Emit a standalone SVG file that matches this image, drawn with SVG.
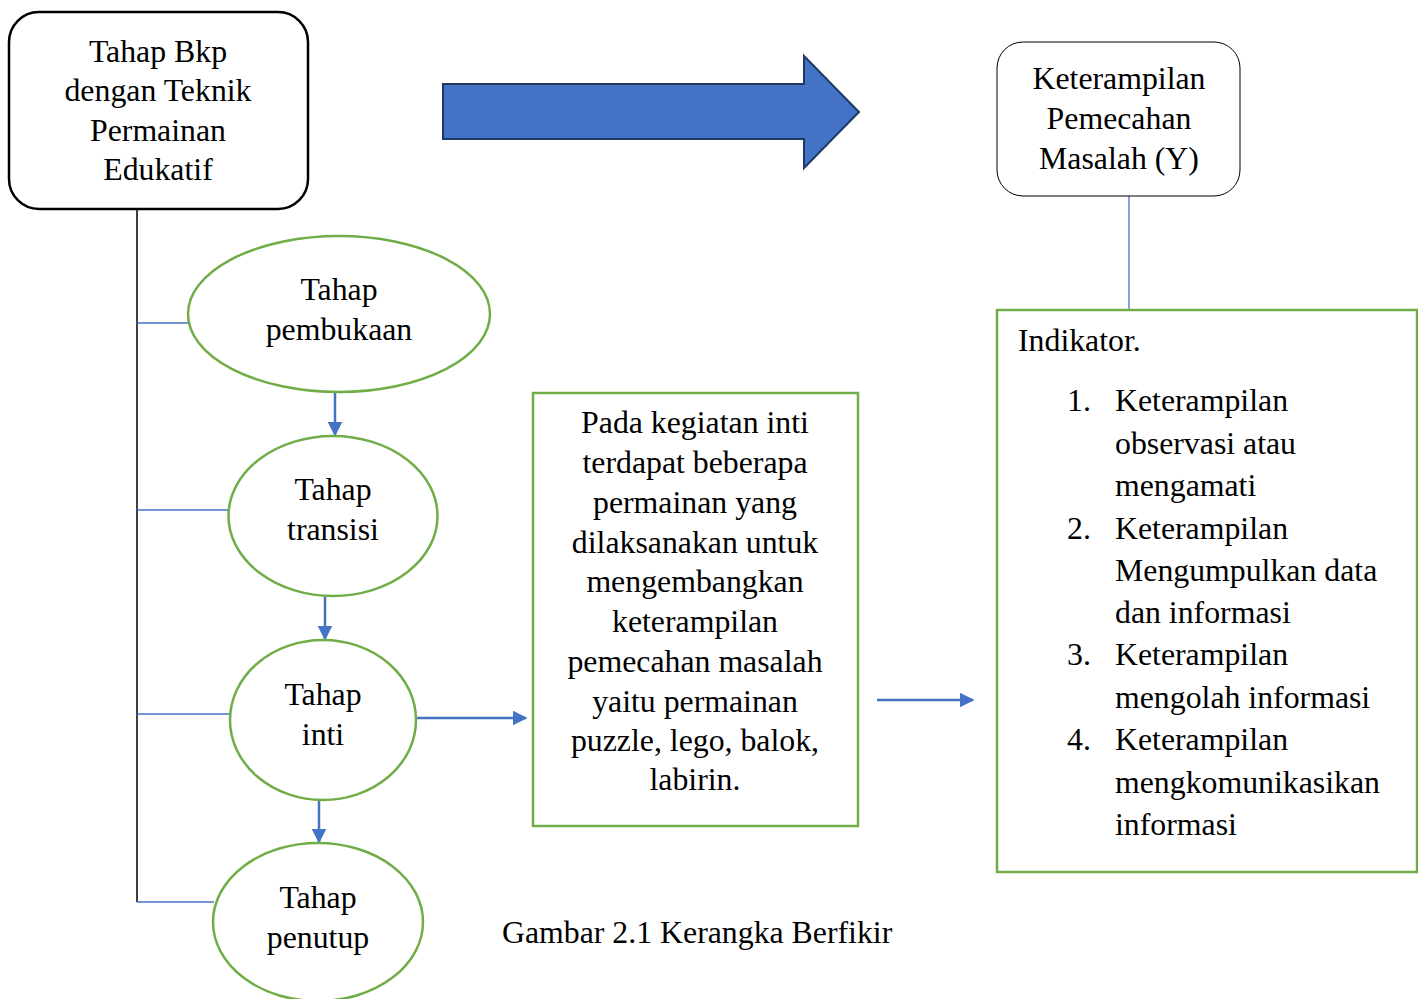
<svg xmlns="http://www.w3.org/2000/svg" width="1418" height="999" viewBox="0 0 1418 999">
<style>
text{font-family:"Liberation Serif","Times New Roman",serif;font-size:31.8px;fill:#000}
.c{text-anchor:middle}
.el{fill:#fff;stroke:#70AD47;stroke-width:2.5}
.gb{fill:#fff;stroke:#70AD47;stroke-width:2.5}
.bl{stroke:#4472C4;stroke-width:1.3;fill:none}
.ar{stroke:#4472C4;stroke-width:2.5;fill:none;marker-end:url(#ah)}
</style>
<defs>
<marker id="ah" viewBox="0 0 10 10" refX="9" refY="5" markerWidth="6" markerHeight="6" markerUnits="strokeWidth" orient="auto"><path d="M0,0 L10,5 L0,10 z" fill="#4472C4"/></marker>
</defs>
<rect width="1418" height="999" fill="#fff"/>
<g id="connectors">
<line x1="137" y1="209" x2="137" y2="902" stroke="#000" stroke-width="1.5"/>
<line class="bl" x1="137" y1="323" x2="189" y2="323"/>
<line class="bl" x1="137" y1="510" x2="229" y2="510"/>
<line class="bl" x1="137" y1="714" x2="231" y2="714"/>
<line class="bl" x1="137" y1="902" x2="214" y2="902"/>
<line class="ar" x1="335" y1="392" x2="335" y2="435"/>
<line class="ar" x1="325" y1="596" x2="325" y2="639"/>
<line class="ar" x1="319" y1="801" x2="319" y2="842"/>
<line class="ar" x1="416" y1="718" x2="526" y2="718"/>
<line class="ar" x1="877" y1="700" x2="973" y2="700"/>
<line class="bl" x1="1129" y1="196" x2="1129" y2="310"/>
<path d="M443,84 L804,84 L804,56 L859,112 L804,168 L804,139 L443,139 Z" fill="#4472C4" stroke="#1F3864" stroke-width="2"/>
</g>
<g id="n-bkp">
<rect x="9" y="12" width="299" height="197" rx="30" fill="#fff" stroke="#000" stroke-width="2.5"/>
<text class="c" x="158" y="62">Tahap Bkp</text>
<text class="c" x="158" y="101">dengan Teknik</text>
<text class="c" x="158" y="141">Permainan</text>
<text class="c" x="158" y="180">Edukatif</text>
</g>
<g id="n-pembukaan">
<ellipse class="el" cx="339" cy="314" rx="151" ry="78"/>
<text class="c" x="339" y="300">Tahap</text>
<text class="c" x="339" y="340">pembukaan</text>
</g>
<g id="n-transisi">
<ellipse class="el" cx="333" cy="516" rx="104.5" ry="80"/>
<text class="c" x="333" y="500">Tahap</text>
<text class="c" x="333" y="540">transisi</text>
</g>
<g id="n-inti">
<ellipse class="el" cx="323" cy="720" rx="93" ry="80"/>
<text class="c" x="323" y="705">Tahap</text>
<text class="c" x="323" y="745">inti</text>
</g>
<g id="n-penutup">
<ellipse class="el" cx="318" cy="922" rx="105" ry="79"/>
<text class="c" x="318" y="908">Tahap</text>
<text class="c" x="318" y="948">penutup</text>
</g>
<g id="n-kegiatan">
<rect class="gb" x="533" y="393" width="325" height="433"/>
<text class="c" x="695" y="433">Pada kegiatan inti</text>
<text class="c" x="695" y="473">terdapat beberapa</text>
<text class="c" x="695" y="513">permainan yang</text>
<text class="c" x="695" y="553">dilaksanakan untuk</text>
<text class="c" x="695" y="592">mengembangkan</text>
<text class="c" x="695" y="632">keterampilan</text>
<text class="c" x="695" y="672">pemecahan masalah</text>
<text class="c" x="695" y="712">yaitu permainan</text>
<text class="c" x="695" y="751">puzzle, lego, balok,</text>
<text class="c" x="695" y="790">labirin.</text>
</g>
<g id="n-y">
<rect x="997" y="42" width="243" height="154" rx="26" fill="#fff" stroke="#000" stroke-width="1"/>
<text class="c" x="1119" y="89">Keterampilan</text>
<text class="c" x="1119" y="129">Pemecahan</text>
<text class="c" x="1119" y="169">Masalah (Y)</text>
</g>
<g id="n-indikator">
<rect class="gb" x="997" y="310" width="420" height="562"/>
<text x="1018" y="351">Indikator.</text>
<text x="1067" y="411">1.</text>
<text x="1115" y="411">Keterampilan</text>
<text x="1115" y="454">observasi atau</text>
<text x="1115" y="496">mengamati</text>
<text x="1067" y="539">2.</text>
<text x="1115" y="539">Keterampilan</text>
<text x="1115" y="581">Mengumpulkan data</text>
<text x="1115" y="623">dan informasi</text>
<text x="1067" y="665">3.</text>
<text x="1115" y="665">Keterampilan</text>
<text x="1115" y="708">mengolah informasi</text>
<text x="1067" y="750">4.</text>
<text x="1115" y="750">Keterampilan</text>
<text x="1115" y="793">mengkomunikasikan</text>
<text x="1115" y="835">informasi</text>
</g>
<text x="502" y="943">Gambar 2.1 Kerangka Berfikir</text>
</svg>
